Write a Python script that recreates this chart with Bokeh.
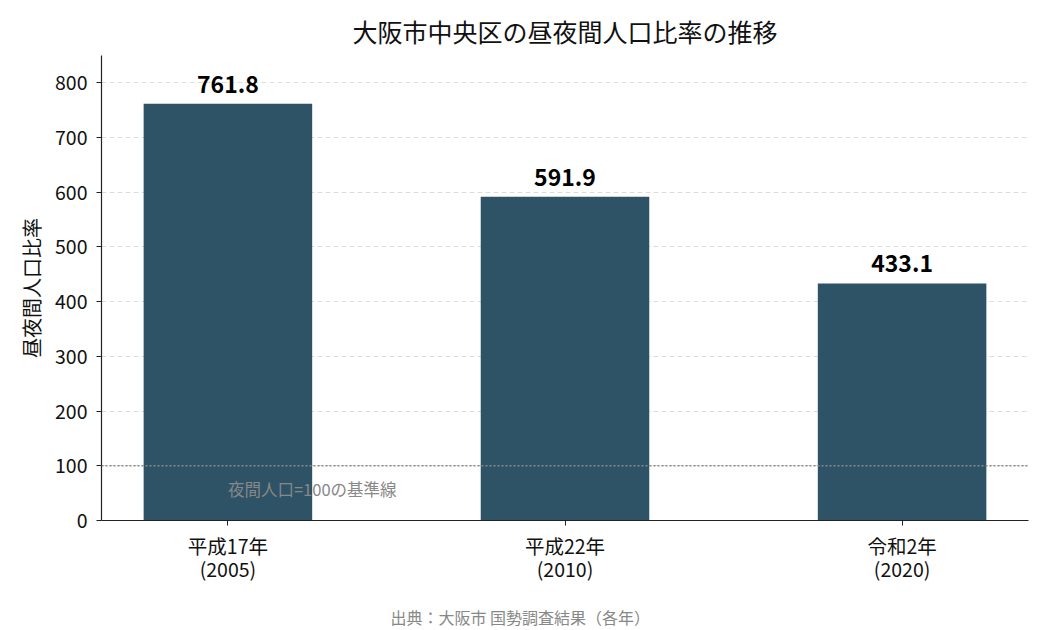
from bokeh.embed import file_html
from bokeh.models import ColumnDataSource, FixedTicker, Label, Range1d, Span, Title
from bokeh.plotting import figure
from bokeh.resources import INLINE

# data
periods = ["平成17年\n(2005)", "平成22年\n(2010)", "令和2年\n(2020)"]
ratios = [761.8, 591.9, 433.1]
y_ticks = [0, 100, 200, 300, 400, 500, 600, 700, 800]
baseline = 100

FONT = "Noto Sans CJK JP"
BAR = "#2e5266"

xs = list(range(len(periods)))
source = ColumnDataSource(data=dict(
    x=xs,
    ratio=ratios,
    label=[f"{v:.1f}" for v in ratios],
    label_y=[v + 36 for v in ratios],
))

p = figure(width=1042, height=630, output_backend="svg", toolbar_location=None,
           x_range=Range1d(-0.375, 2.375), y_range=Range1d(0, 850),
           min_border_left=101, min_border_right=14, min_border_top=55, min_border_bottom=60)
p.outline_line_color = None
p.background_fill_color = "white"
p.border_fill_color = "white"

p.title.text = "大阪市中央区の昼夜間人口比率の推移"
p.title.align = "center"
p.title.text_font = FONT
p.title.text_font_size = "25px"
p.title.text_font_style = "normal"
p.title.text_color = "#111111"
p.title.standoff = 14

p.xgrid.grid_line_color = None
p.ygrid.grid_line_color = "#dddddd"
p.ygrid.grid_line_dash = "5 3"
p.ygrid.grid_line_width = 1

p.vbar(x="x", top="ratio", width=0.5, source=source, color=BAR, line_color=None)

p.add_layout(Span(location=baseline, dimension="width", line_color="#888888",
                  line_dash="2 2", line_width=1.6))
p.add_layout(Label(x=0, y=baseline - 43, text="夜間人口=100の基準線", text_font=FONT,
                   text_font_size="16.5px", text_color="#888888", text_baseline="middle",
                   text_align="left"))

p.text(x="x", y="label_y", text="label", source=source, text_align="center",
       text_baseline="middle", text_font_size="23px", text_font_style="bold",
       text_color="black", text_font={"value": FONT})

p.xaxis.ticker = FixedTicker(ticks=xs)
p.xaxis.major_label_overrides = {i: lab for i, lab in enumerate(periods)}
p.yaxis.ticker = FixedTicker(ticks=y_ticks)
p.yaxis.axis_label = "昼夜間人口比率"

for ax in (p.xaxis, p.yaxis):
    ax.axis_line_color = "#222222"
    ax.axis_line_width = 1.2
    ax.major_tick_line_color = "#222222"
    ax.major_tick_in = 0
    ax.major_tick_out = 5
    ax.minor_tick_line_color = None
    ax.major_label_text_font = FONT
    ax.major_label_text_font_size = "19.5px"
    ax.major_label_text_color = "#111111"
    ax.axis_label_text_font = FONT
    ax.axis_label_text_font_size = "20px"
    ax.axis_label_text_font_style = "normal"
    ax.axis_label_text_color = "#111111"
p.xaxis.major_label_standoff = 5
p.xaxis.major_label_text_line_height = 0.81
p.yaxis.major_label_standoff = 9
p.yaxis.axis_label_standoff = 6

# empty spacer between the axis and the source note
p.add_layout(Title(text=" ", text_font_size="1px", standoff=12), "below")
note = Title(text="出典：大阪市 国勢調査結果（各年）", align="left", offset=289,
             text_font=FONT, text_font_size="16px", text_color="#888888",
             text_font_style="normal", standoff=4)
p.add_layout(note, "below")

open("out.html", "w").write(file_html(p, INLINE))
